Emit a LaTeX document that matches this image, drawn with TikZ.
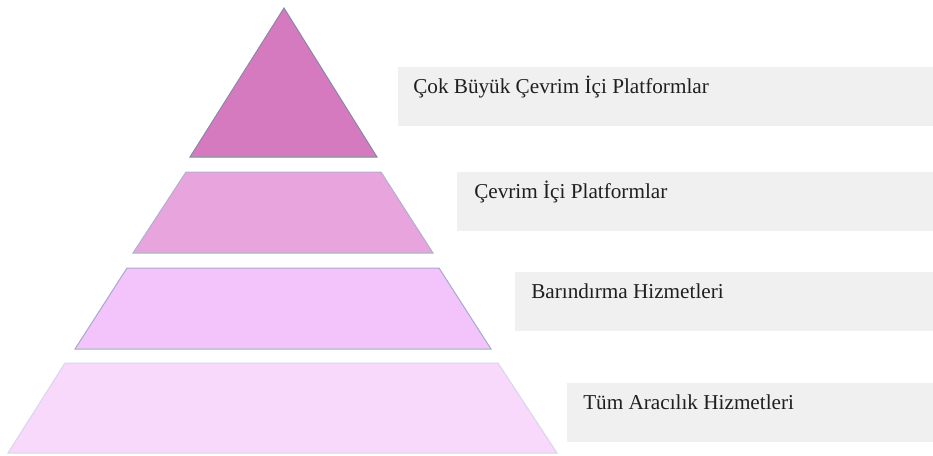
\documentclass[tikz,border=0pt]{standalone}
\usepackage{fontspec}
\setmainfont{Liberation Serif}
\usepackage{tikz}
\usetikzlibrary{positioning}

\definecolor{tierA}{RGB}{214,122,191}
\definecolor{tierB}{RGB}{231,164,221}
\definecolor{tierC}{RGB}{243,196,251}
\definecolor{tierD}{RGB}{248,216,251}
\definecolor{edgeA}{RGB}{125,143,163}
\definecolor{edgeB}{RGB}{168,181,200}
\definecolor{edgeC}{RGB}{160,174,196}
\definecolor{edgeD}{RGB}{210,216,232}
\definecolor{boxgray}{RGB}{240,240,240}

\begin{document}
\begin{tikzpicture}[x=0.75pt,y=-0.75pt,
  tier/.style={line width=0.75pt,line join=miter},
  tiertext/.style={anchor=base west,inner sep=0pt,text=black!88,
    font=\fontsize{15.9}{18}\selectfont}]
  \useasboundingbox (0,0) rectangle (933,455);

  % pyramid levels, top to bottom
  \filldraw[tier,fill=tierA,draw=edgeA] (284,8) -- (377,157) -- (190,157) -- cycle;
  \filldraw[tier,fill=tierB,draw=edgeB] (186,172) -- (381,172) -- (433,253) -- (133,253) -- cycle;
  \filldraw[tier,fill=tierC,draw=edgeC] (127,268) -- (439,268) -- (491,349) -- (75,349) -- cycle;
  \filldraw[tier,fill=tierD,draw=edgeD] (65,363) -- (498,363) -- (557,453) -- (8,453) -- cycle;

  % grey label boxes
  \foreach \n/\xl/\yt in {1/398/67, 2/457/172, 3/515/272, 4/567/383}
    \fill[boxgray] (\xl,\yt) rectangle (933,\yt+59);

  % labels
  \node[tiertext] (label1) at (413,93.5) {Çok Büyük Çevrim İçi Platformlar};
  \node[tiertext] (label2) at (474,198.5) {Çevrim İçi Platformlar};
  \node[tiertext] (label3) at (531,298.5) {Barındırma Hizmetleri};
  \node[tiertext] (label4) at (583,409.5) {Tüm Aracılık Hizmetleri};
\end{tikzpicture}
\end{document}
